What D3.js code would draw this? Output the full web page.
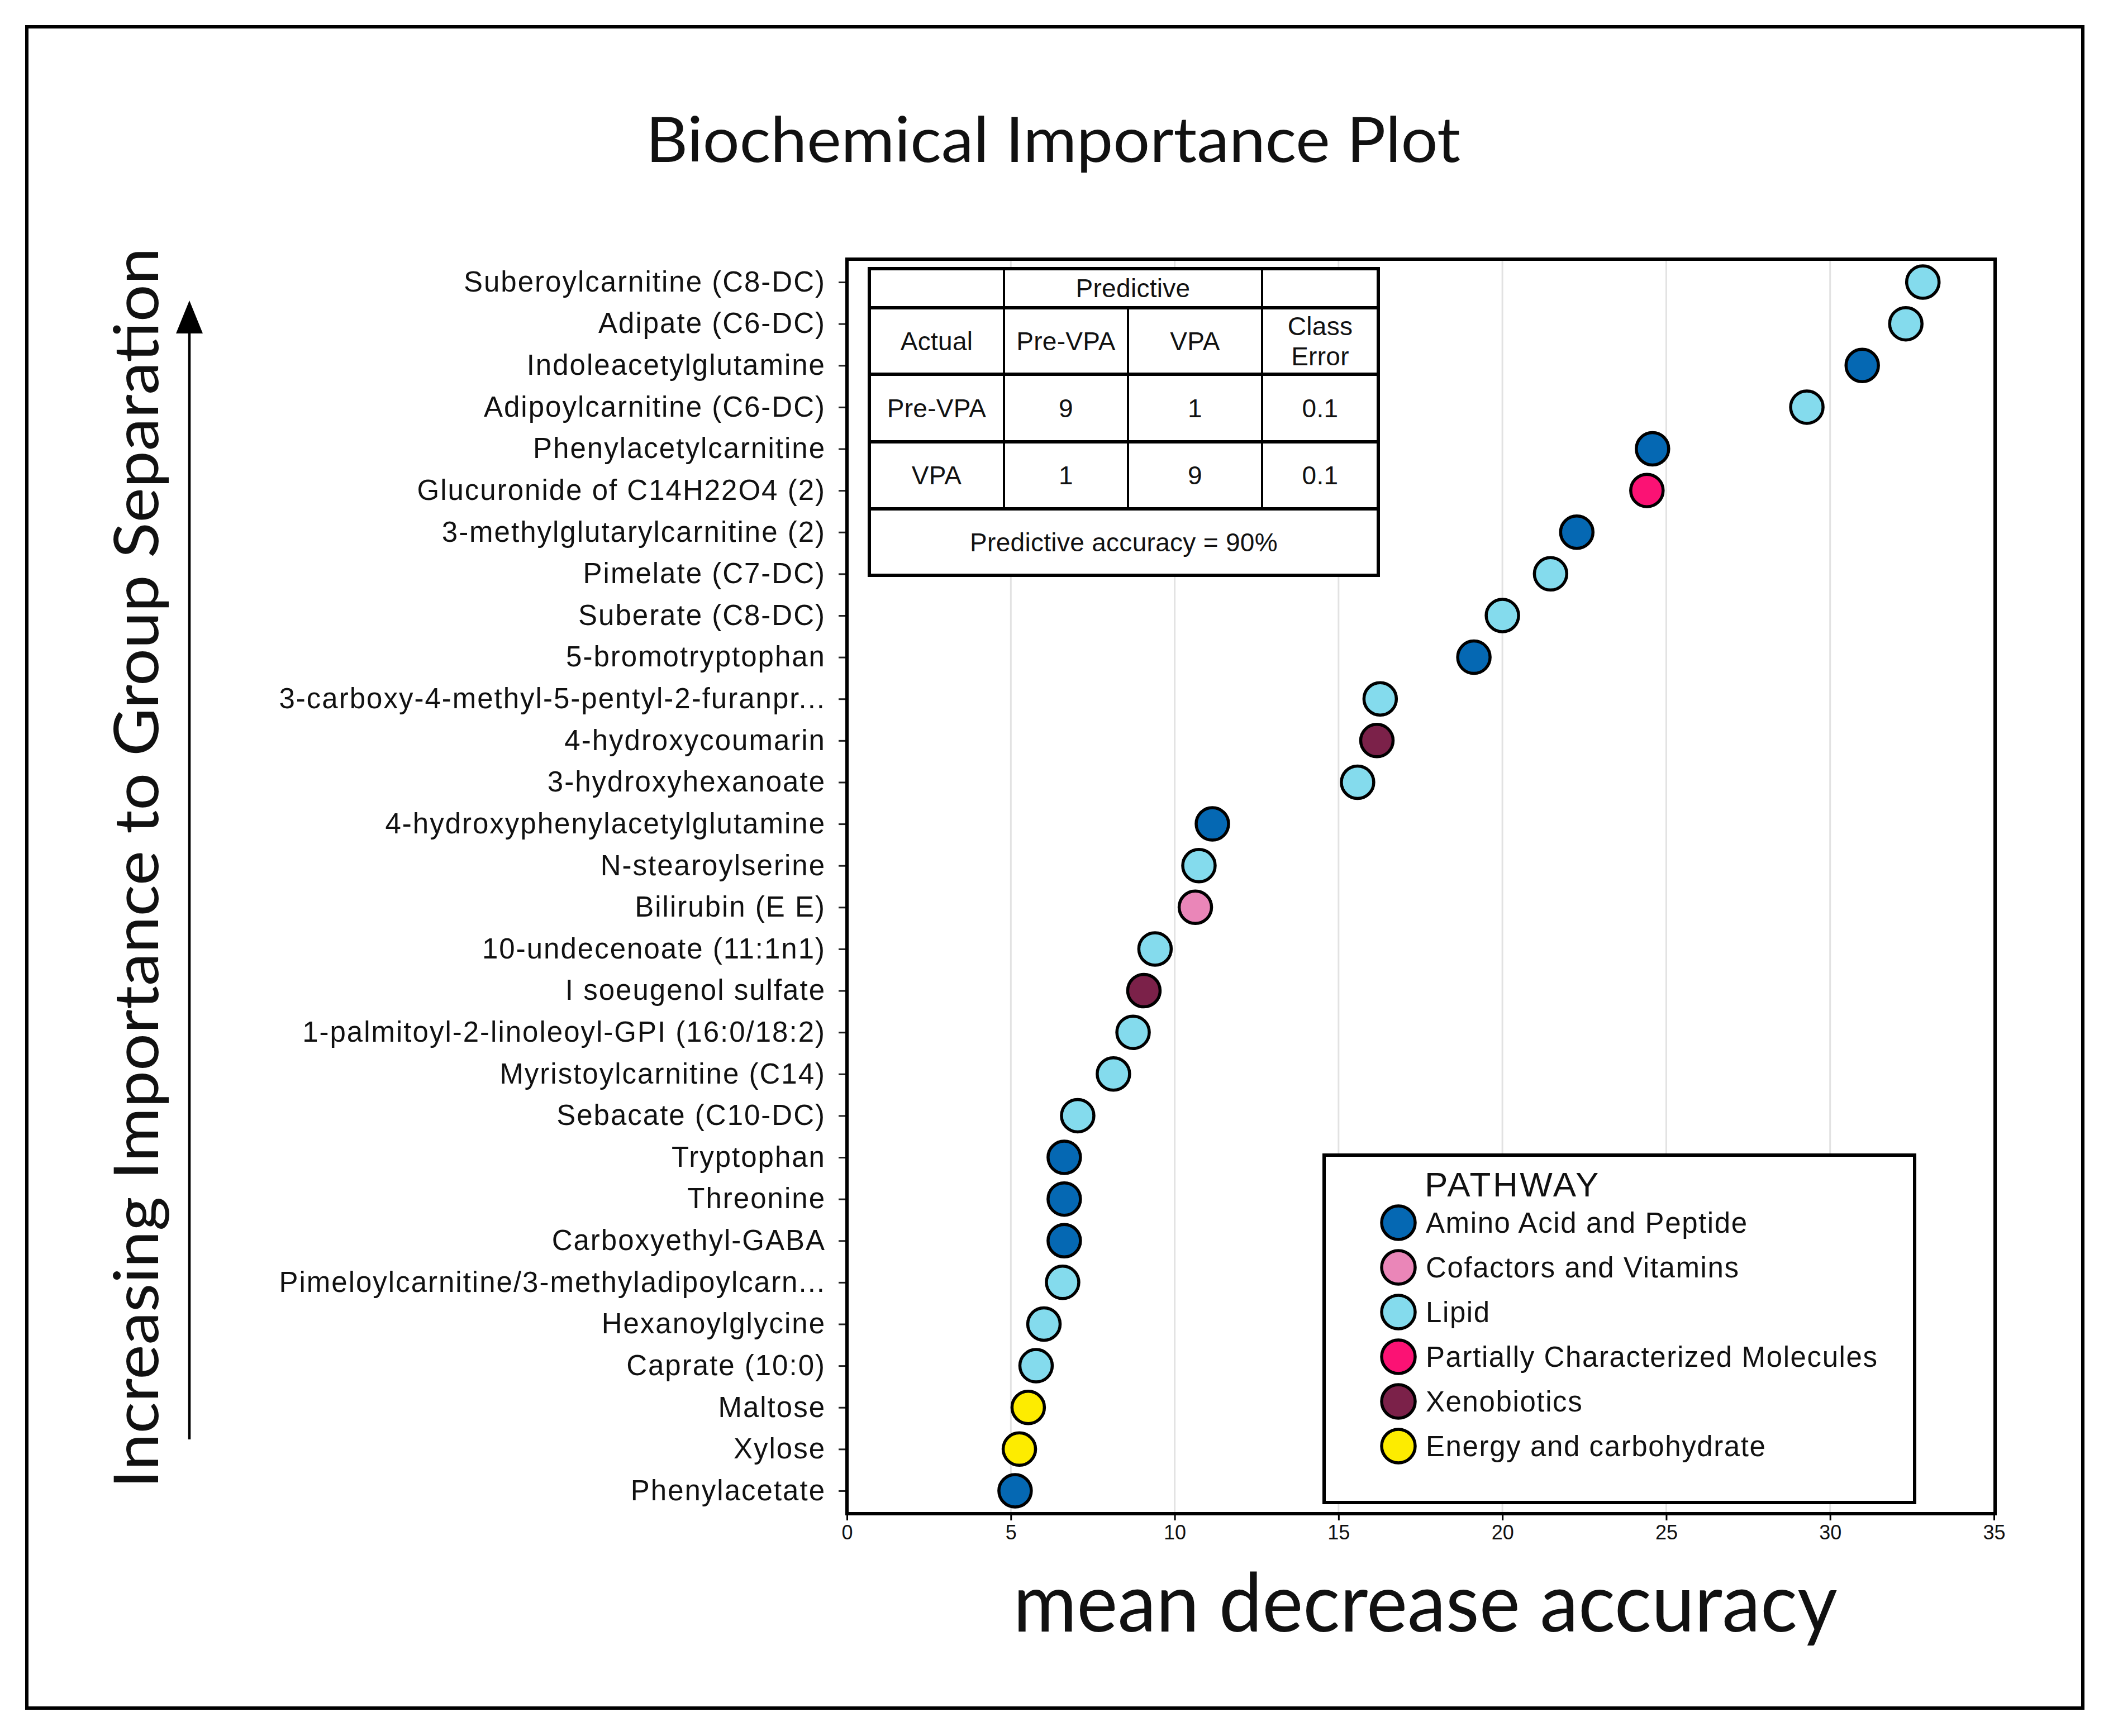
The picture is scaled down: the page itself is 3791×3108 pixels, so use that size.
<!DOCTYPE html>
<html>
<head>
<meta charset="utf-8">
<script src="https://cdn.jsdelivr.net/npm/d3@7"></script>
<style>
    body { margin: 0; background: #fff; }
    text { font-family: "Liberation Sans", Arial, sans-serif; fill: #111; }
    .big { font-family: Lato, "Open Sans", sans-serif; }
</style>
</head>
<body>
<svg id="chart"></svg>
<script>
// metabolites, top (most important) to bottom
var metabolites = [
    "Suberoylcarnitine (C8-DC)", "Adipate (C6-DC)", "Indoleacetylglutamine",
    "Adipoylcarnitine (C6-DC)", "Phenylacetylcarnitine", "Glucuronide of C14H22O4 (2)",
    "3-methylglutarylcarnitine (2)", "Pimelate (C7-DC)", "Suberate (C8-DC)",
    "5-bromotryptophan", "3-carboxy-4-methyl-5-pentyl-2-furanpr...", "4-hydroxycoumarin",
    "3-hydroxyhexanoate", "4-hydroxyphenylacetylglutamine", "N-stearoylserine",
    "Bilirubin (E E)", "10-undecenoate (11:1n1)", "I soeugenol sulfate",
    "1-palmitoyl-2-linoleoyl-GPI (16:0/18:2)", "Myristoylcarnitine (C14)", "Sebacate (C10-DC)",
    "Tryptophan", "Threonine", "Carboxyethyl-GABA",
    "Pimeloylcarnitine/3-methyladipoylcarn...", "Hexanoylglycine", "Caprate (10:0)",
    "Maltose", "Xylose", "Phenylacetate"
];
var importance = [
    32.83, 32.31, 30.98, 29.29, 24.58, 24.41, 22.27, 21.47, 20.0, 19.13,
    16.27, 16.17, 15.58, 11.15, 10.74, 10.63, 9.40, 9.06, 8.73, 8.13,
    7.04, 6.63, 6.63, 6.63, 6.58, 6.01, 5.77, 5.53, 5.26, 5.13
];
var pathwayOf = [
    "Lipid", "Lipid", "Amino Acid and Peptide", "Lipid", "Amino Acid and Peptide",
    "Partially Characterized Molecules", "Amino Acid and Peptide", "Lipid", "Lipid", "Amino Acid and Peptide",
    "Lipid", "Xenobiotics", "Lipid", "Amino Acid and Peptide", "Lipid",
    "Cofactors and Vitamins", "Lipid", "Xenobiotics", "Lipid", "Lipid",
    "Lipid", "Amino Acid and Peptide", "Amino Acid and Peptide", "Amino Acid and Peptide", "Lipid",
    "Lipid", "Lipid", "Energy and carbohydrate", "Energy and carbohydrate", "Amino Acid and Peptide"
];

var pathways = ["Amino Acid and Peptide", "Cofactors and Vitamins", "Lipid",
    "Partially Characterized Molecules", "Xenobiotics", "Energy and carbohydrate"];
var pathwayColors = ["#0568b3", "#ea86b8", "#84dbed", "#fb1274", "#7b2149", "#fdec00"];

var xTicks = [0, 5, 10, 15, 20, 25, 30, 35];

// confusion table
var tableHeader = ["Actual", "Pre-VPA", "VPA", "Class Error"];
var tableRows = ["Pre-VPA", "VPA"];
var confusion = [[9, 1, 0.1], [1, 9, 0.1]];
var accuracyText = "Predictive accuracy = 90%";

var W = 3791, H = 3108;
var svg = d3.select("#chart").attr("width", W).attr("height", H);
svg.append("rect").attr("width", W).attr("height", H).attr("fill", "#fff");

// outer frame
svg.append("rect")
    .attr("x", 48).attr("y", 48).attr("width", 3680).attr("height", 3010)
    .attr("fill", "none").attr("stroke", "#000").attr("stroke-width", 6);

var plot = {left: 1516, top: 464, right: 3571, bottom: 2710};

var x = d3.scaleLinear().domain([0, 35]).range([plot.left, 3569]);
var y = d3.scalePoint().domain(metabolites).range([plot.top, plot.bottom]).padding(0.55);
var color = d3.scaleOrdinal().domain(pathways).range(pathwayColors);

// title
svg.append("text").attr("class", "big")
    .attr("x", 1885).attr("y", 290)
    .attr("text-anchor", "middle")
    .attr("font-size", 113)
    .attr("textLength", 1458).attr("lengthAdjust", "spacingAndGlyphs")
    .text("Biochemical Importance Plot");

// gridlines
svg.append("g").selectAll("line")
    .data(xTicks.filter(function (d) { return d > 0 && d < 35; }))
    .join("line")
    .attr("x1", function (d) { return x(d); })
    .attr("x2", function (d) { return x(d); })
    .attr("y1", plot.top).attr("y2", plot.bottom)
    .attr("stroke", "#e2e2e2").attr("stroke-width", 3);

// y axis (metabolite names)
var yAxis = svg.append("g")
    .attr("transform", "translate(" + plot.left + ",0)")
    .call(d3.axisLeft(y).tickSize(15).tickPadding(23));
yAxis.select(".domain").remove();
yAxis.selectAll(".tick line").attr("stroke", "#222").attr("stroke-width", 3);
yAxis.selectAll(".tick text")
    .attr("font-size", 51)
    .attr("letter-spacing", "2px")
    .attr("fill", "#111");

// x axis
var xAxis = svg.append("g")
    .attr("transform", "translate(0," + plot.bottom + ")")
    .call(d3.axisBottom(x).tickValues(xTicks).tickSize(12).tickPadding(8));
xAxis.select(".domain").remove();
xAxis.selectAll(".tick line").attr("stroke", "#000").attr("stroke-width", 3);
xAxis.selectAll(".tick text").attr("font-size", 36).attr("fill", "#111");

// plot frame
svg.append("rect")
    .attr("x", plot.left).attr("y", plot.top)
    .attr("width", plot.right - plot.left).attr("height", plot.bottom - plot.top)
    .attr("fill", "none").attr("stroke", "#000").attr("stroke-width", 6);

// points
svg.append("g").selectAll("circle")
    .data(metabolites)
    .join("circle")
    .attr("cx", function (d, i) { return x(importance[i]); })
    .attr("cy", function (d) { return y(d); })
    .attr("r", 29)
    .attr("fill", function (d, i) { return color(pathwayOf[i]); })
    .attr("stroke", "#000").attr("stroke-width", 5.5);

// confusion table
var colEdges = [1556, 1797, 2019, 2259, 2467];
var rowEdges = [481, 551, 670, 791, 911, 1030];
var tbl = svg.append("g");
tbl.append("rect")
    .attr("x", colEdges[0]).attr("y", rowEdges[0])
    .attr("width", colEdges[4] - colEdges[0]).attr("height", rowEdges[5] - rowEdges[0])
    .attr("fill", "#fff").attr("stroke", "#000").attr("stroke-width", 6);
tbl.selectAll("line.h")
    .data(rowEdges.slice(1, 5))
    .join("line")
    .attr("x1", colEdges[0]).attr("x2", colEdges[4])
    .attr("y1", function (d) { return d; }).attr("y2", function (d) { return d; })
    .attr("stroke", "#000").attr("stroke-width", 6);
tbl.selectAll("line.v")
    .data([[colEdges[1], rowEdges[0]], [colEdges[2], rowEdges[1]], [colEdges[3], rowEdges[0]]])
    .join("line")
    .attr("x1", function (d) { return d[0]; }).attr("x2", function (d) { return d[0]; })
    .attr("y1", function (d) { return d[1]; }).attr("y2", rowEdges[4])
    .attr("stroke", "#000").attr("stroke-width", 4);

function cellText(cx, cy, t) {
    return tbl.append("text")
        .attr("x", cx).attr("y", cy).attr("dy", "0.35em")
        .attr("text-anchor", "middle")
        .attr("font-size", 46).attr("letter-spacing", "0.3px")
        .text(t);
}
function mid(a, i) { return (a[i] + a[i + 1]) / 2; }

cellText((colEdges[1] + colEdges[3]) / 2, mid(rowEdges, 0), "Predictive");
tableHeader.forEach(function (h, j) {
    if (h === "Class Error") {
        cellText(mid(colEdges, j), mid(rowEdges, 1) - 27, "Class");
        cellText(mid(colEdges, j), mid(rowEdges, 1) + 27, "Error");
    } else {
        cellText(mid(colEdges, j), mid(rowEdges, 1), h);
    }
});
tableRows.forEach(function (r, i) {
    cellText(mid(colEdges, 0), mid(rowEdges, i + 2), r);
    confusion[i].forEach(function (v, j) {
        cellText(mid(colEdges, j + 1), mid(rowEdges, i + 2), v);
    });
});
cellText((colEdges[0] + colEdges[4]) / 2, mid(rowEdges, 4), accuracyText);

// legend
var lg = svg.append("g");
lg.append("rect")
    .attr("x", 2370).attr("y", 2068).attr("width", 1057).attr("height", 622)
    .attr("fill", "#fff").attr("stroke", "#000").attr("stroke-width", 6);
lg.append("text")
    .attr("x", 2550).attr("y", 2142)
    .attr("font-size", 62).attr("letter-spacing", "3.5px")
    .text("PATHWAY");
var items = lg.selectAll("g.item")
    .data(pathways)
    .join("g")
    .attr("transform", function (d, i) { return "translate(2503," + (2189 + i * 80) + ")"; });
items.append("circle")
    .attr("r", 30)
    .attr("fill", function (d) { return color(d); })
    .attr("stroke", "#000").attr("stroke-width", 5.5);
items.append("text")
    .attr("x", 49).attr("dy", "0.35em")
    .attr("font-size", 51).attr("letter-spacing", "1.6px")
    .text(function (d) { return d; });

// y title + arrow
svg.append("text").attr("class", "big")
    .attr("transform", "translate(283,1554) rotate(-90)")
    .attr("text-anchor", "middle")
    .attr("font-size", 110)
    .attr("textLength", 2221).attr("lengthAdjust", "spacingAndGlyphs")
    .text("Increasing Importance to Group Separation");

svg.append("line")
    .attr("x1", 339).attr("x2", 339).attr("y1", 2577).attr("y2", 590)
    .attr("stroke", "#000").attr("stroke-width", 4.5);
svg.append("path")
    .attr("d", d3.line()([[339, 538], [315, 597], [363, 597]]) + "Z")
    .attr("fill", "#000");

// x title
svg.append("text").attr("class", "big")
    .attr("x", 2551).attr("y", 2921)
    .attr("text-anchor", "middle")
    .attr("font-size", 146)
    .attr("textLength", 1475).attr("lengthAdjust", "spacingAndGlyphs")
    .text("mean decrease accuracy");
</script>
</body>
</html>
